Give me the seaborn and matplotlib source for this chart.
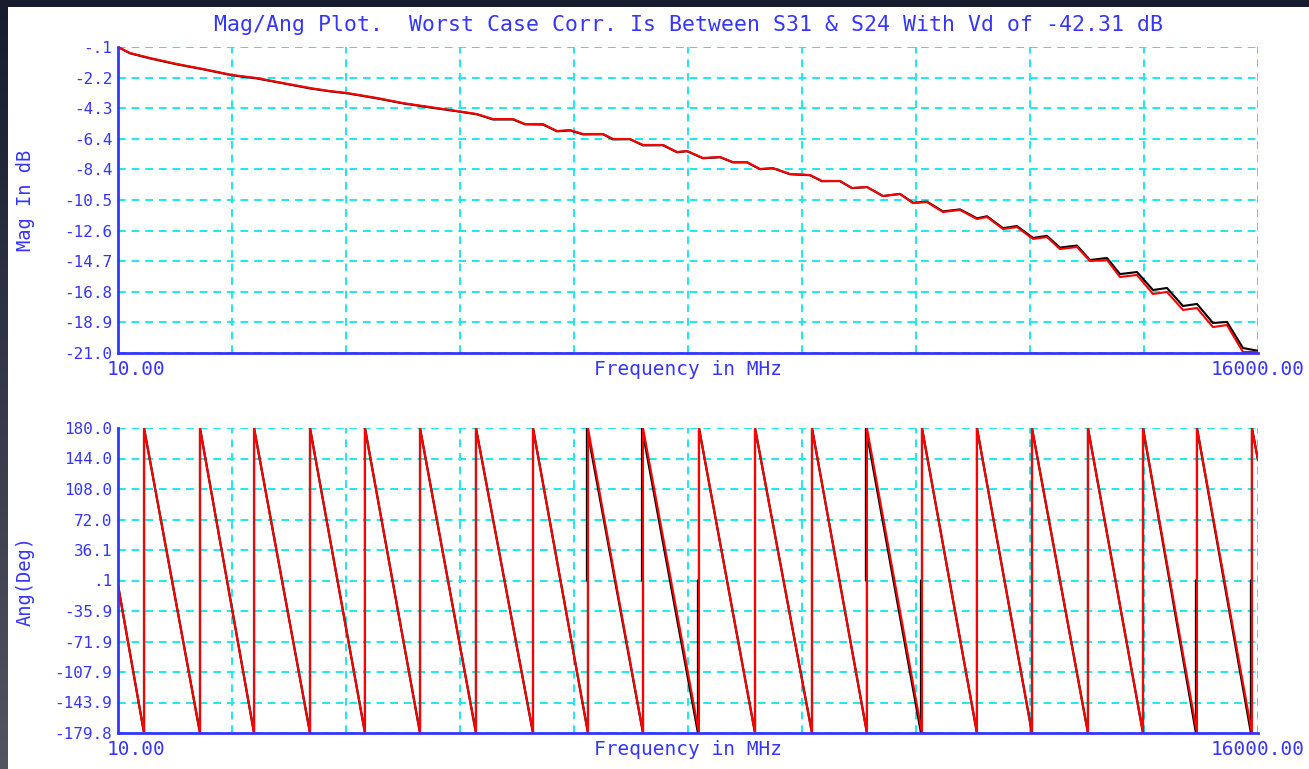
import numpy as np
import pandas as pd
import matplotlib
matplotlib.use("Agg")
import matplotlib.pyplot as plt
from matplotlib.patches import Rectangle
from matplotlib.colors import LinearSegmentedColormap
import seaborn as sns

# magnitude traces
freq_mag = [10, 178, 459, 838, 1202, 1609, 1960, 2324, 2703, 2984,
            3222, 3643, 4007, 4386, 4765, 5045, 5270, 5550, 5719, 5971,
            6167, 6350, 6532, 6813, 6953, 7191, 7374, 7654, 7851, 7991,
            8215, 8454, 8636, 8832, 9015, 9197, 9435, 9716, 9884, 10137,
            10305, 10516, 10740, 10978, 11161, 11357, 11581, 11820, 12058, 12199,
            12423, 12619, 12844, 13040, 13222, 13461, 13643, 13882, 14064, 14303,
            14527, 14723, 14948, 15144, 15368, 15565, 15789, 16000]
mag_red = [-0.10, -0.51, -0.85, -1.26, -1.60, -2.01, -2.22, -2.56, -2.90, -3.11,
           -3.24, -3.58, -3.93, -4.20, -4.47, -4.68, -5.02, -5.02, -5.36, -5.36,
           -5.84, -5.77, -6.04, -6.04, -6.38, -6.38, -6.79, -6.79, -7.27, -7.20,
           -7.68, -7.61, -7.96, -7.96, -8.43, -8.37, -8.77, -8.84, -9.25, -9.25,
           -9.73, -9.66, -10.28, -10.14, -10.76, -10.69, -11.37, -11.23, -11.85, -11.71,
           -12.53, -12.40, -13.21, -13.08, -13.90, -13.76, -14.72, -14.65, -15.81, -15.67,
           -16.97, -16.83, -18.06, -17.93, -19.23, -19.09, -20.93, -20.93]
mag_black = [-0.10, -0.53, -0.88, -1.29, -1.62, -2.03, -2.25, -2.58, -2.93, -3.13,
             -3.26, -3.61, -3.95, -4.23, -4.49, -4.70, -5.05, -5.05, -5.38, -5.40,
             -5.86, -5.80, -6.07, -6.06, -6.41, -6.40, -6.82, -6.81, -7.29, -7.22,
             -7.70, -7.63, -7.98, -7.98, -8.45, -8.38, -8.79, -8.86, -9.27, -9.26,
             -9.74, -9.67, -10.28, -10.13, -10.74, -10.66, -11.33, -11.19, -11.80, -11.66,
             -12.47, -12.33, -13.14, -13.00, -13.80, -13.66, -14.65, -14.51, -15.61, -15.47,
             -16.70, -16.56, -17.79, -17.65, -18.95, -18.88, -20.66, -20.85]

# phase sawtooth: wrap frequencies and end values
phase_start = -5.2
phase_end = 142.0
phase_lo = -179.8
phase_hi = 180.0
phase_mid = 0.1
wrap_freqs = [375, 1160, 1918, 2703, 3474, 4246, 5031, 5831, 6602, 7374,
              8159, 8945, 9744, 10515, 11287, 12058, 12830, 13615, 14387, 15144, 15915]
# black trace wraps (lower half / upper half of the jump)
black_wrap_lo = [375, 1160, 1918, 2703, 3474, 4246, 5031, 5831, 6602, 7374,
                 8145, 8945, 9744, 10515, 11273, 12058, 12830, 13615, 14387, 15130, 15901]
black_wrap_hi = [375, 1160, 1918, 2703, 3474, 4246, 5031, 5831, 6588, 7360,
                 8159, 8945, 9744, 10501, 11287, 12058, 12830, 13615, 14387, 15144, 15915]

mag_ticks = [-0.1, -2.19, -4.28, -6.37, -8.46, -10.55, -12.64, -14.73, -16.82, -18.91, -21.0]
mag_labels = ["-.1", "-2.2", "-4.3", "-6.4", "-8.4", "-10.5", "-12.6", "-14.7", "-16.8", "-18.9", "-21.0"]
ang_ticks = [180.0, 144.02, 108.04, 72.06, 36.08, 0.1, -35.88, -71.86, -107.84, -143.82, -179.8]
ang_labels = ["180.0", "144.0", "108.0", "72.0", "36.1", ".1", "-35.9", "-71.9", "-107.9", "-143.9", "-179.8"]
freq_min, freq_max = 10, 16000

title = "Mag/Ang Plot.  Worst Case Corr. Is Between S31 & S24 With Vd of -42.31 dB"

# build phase vertex tables
red_f, red_p = [freq_min], [phase_start]
for f in wrap_freqs:
    red_f += [f, f]
    red_p += [phase_lo, phase_hi]
red_f.append(freq_max)
red_p.append(phase_end)

blk_f, blk_p = [freq_min], [phase_start]
for lo, hi in zip(black_wrap_lo, black_wrap_hi):
    blk_f += [lo, lo, hi, hi]
    blk_p += [phase_lo, phase_mid, phase_mid, phase_hi]
blk_f.append(freq_max)
blk_p.append(phase_end)

df_mag = pd.DataFrame({"freq": freq_mag, "red": mag_red, "black": mag_black})
df_red = pd.DataFrame({"freq": red_f, "ang": red_p})
df_blk = pd.DataFrame({"freq": blk_f, "ang": blk_p})

sns.set_style("white")
plt.rcParams["font.family"] = ["DejaVu Sans Mono", "DejaVu Sans"]

BLUE = "#3535ff"
CYAN = "#1ee8ee"

fig = plt.figure(figsize=(13.09, 7.69), dpi=100)
fig.patch.set_facecolor("#171c2f")
fig.patches.append(Rectangle((8 / 1309, 0), 1, 1 - 7 / 769, transform=fig.transFigure,
                             facecolor="white", edgecolor="none", zorder=-10))

# window edge on the left, dark navy fading to grey
edge = fig.add_axes([0, 0, 8 / 1309, 1 - 7 / 769])
edge.imshow(np.linspace(0, 1, 100).reshape(-1, 1), aspect="auto",
            cmap=LinearSegmentedColormap.from_list("edge", ["#171c2f", "#52555f"]))
edge.set_axis_off()

ax1 = fig.add_axes([118 / 1309, 1 - 353 / 769, 1140 / 1309, 306 / 769])
ax2 = fig.add_axes([118 / 1309, 1 - 733 / 769, 1140 / 1309, 305 / 769])

sns.lineplot(data=df_mag, x="freq", y="black", ax=ax1, color="black", lw=1.5,
             estimator=None, sort=False)
sns.lineplot(data=df_mag, x="freq", y="red", ax=ax1, color="red", lw=1.5,
             estimator=None, sort=False)
sns.lineplot(data=df_blk, x="freq", y="ang", ax=ax2, color="black", lw=1.6,
             estimator=None, sort=False)
sns.lineplot(data=df_red, x="freq", y="ang", ax=ax2, color="red", lw=1.5,
             estimator=None, sort=False)

xticks = np.linspace(freq_min, freq_max, 11)
for ax, yt, yl, lab, lims in [(ax1, mag_ticks, mag_labels, "Mag In dB", (-21.0, -0.1)),
                              (ax2, ang_ticks, ang_labels, "Ang(Deg)", (-179.8, 180.0))]:
    ax.set_facecolor("white")
    ax.set_xlim(freq_min, freq_max)
    ax.set_ylim(*lims)
    ax.set_xticks(xticks)
    ax.set_xticklabels([])
    ax.set_yticks(yt)
    ax.set_yticklabels(yl)
    ax.set_axisbelow(True)
    ax.grid(True, color=CYAN, ls=(0, (4, 3)), lw=1.4)
    for s in ["top", "right"]:
        ax.spines[s].set_visible(False)
    for s in ["left", "bottom"]:
        ax.spines[s].set_color(BLUE)
        ax.spines[s].set_linewidth(2)
    ax.tick_params(axis="y", direction="out", length=4, width=1.5, color=BLUE,
                   labelcolor=BLUE, labelsize=11.5, pad=0)
    ax.tick_params(axis="x", direction="in", length=5, width=1.5, color=BLUE)
    ax.set_xlabel("")
    ax.set_ylabel("")
    ax.text(-0.0096, -0.055, "10.00", transform=ax.transAxes, ha="left", va="center",
            color=BLUE, fontsize=14)
    ax.text(1.0, -0.055, "16000.00", transform=ax.transAxes, ha="center", va="center",
            color=BLUE, fontsize=14)
    ax.text(0.5, -0.055, "Frequency in MHz", transform=ax.transAxes, ha="center",
            va="center", color=BLUE, fontsize=14)
    ax.text(-0.0815, 0.5, lab, transform=ax.transAxes, ha="center", va="center",
            rotation=90, color=BLUE, fontsize=13.5)

fig.text(688 / 1309, 1 - 25 / 769, title, ha="center", va="center", color=BLUE, fontsize=15.5)

fig.savefig("out.png", dpi=100, facecolor=fig.get_facecolor())
